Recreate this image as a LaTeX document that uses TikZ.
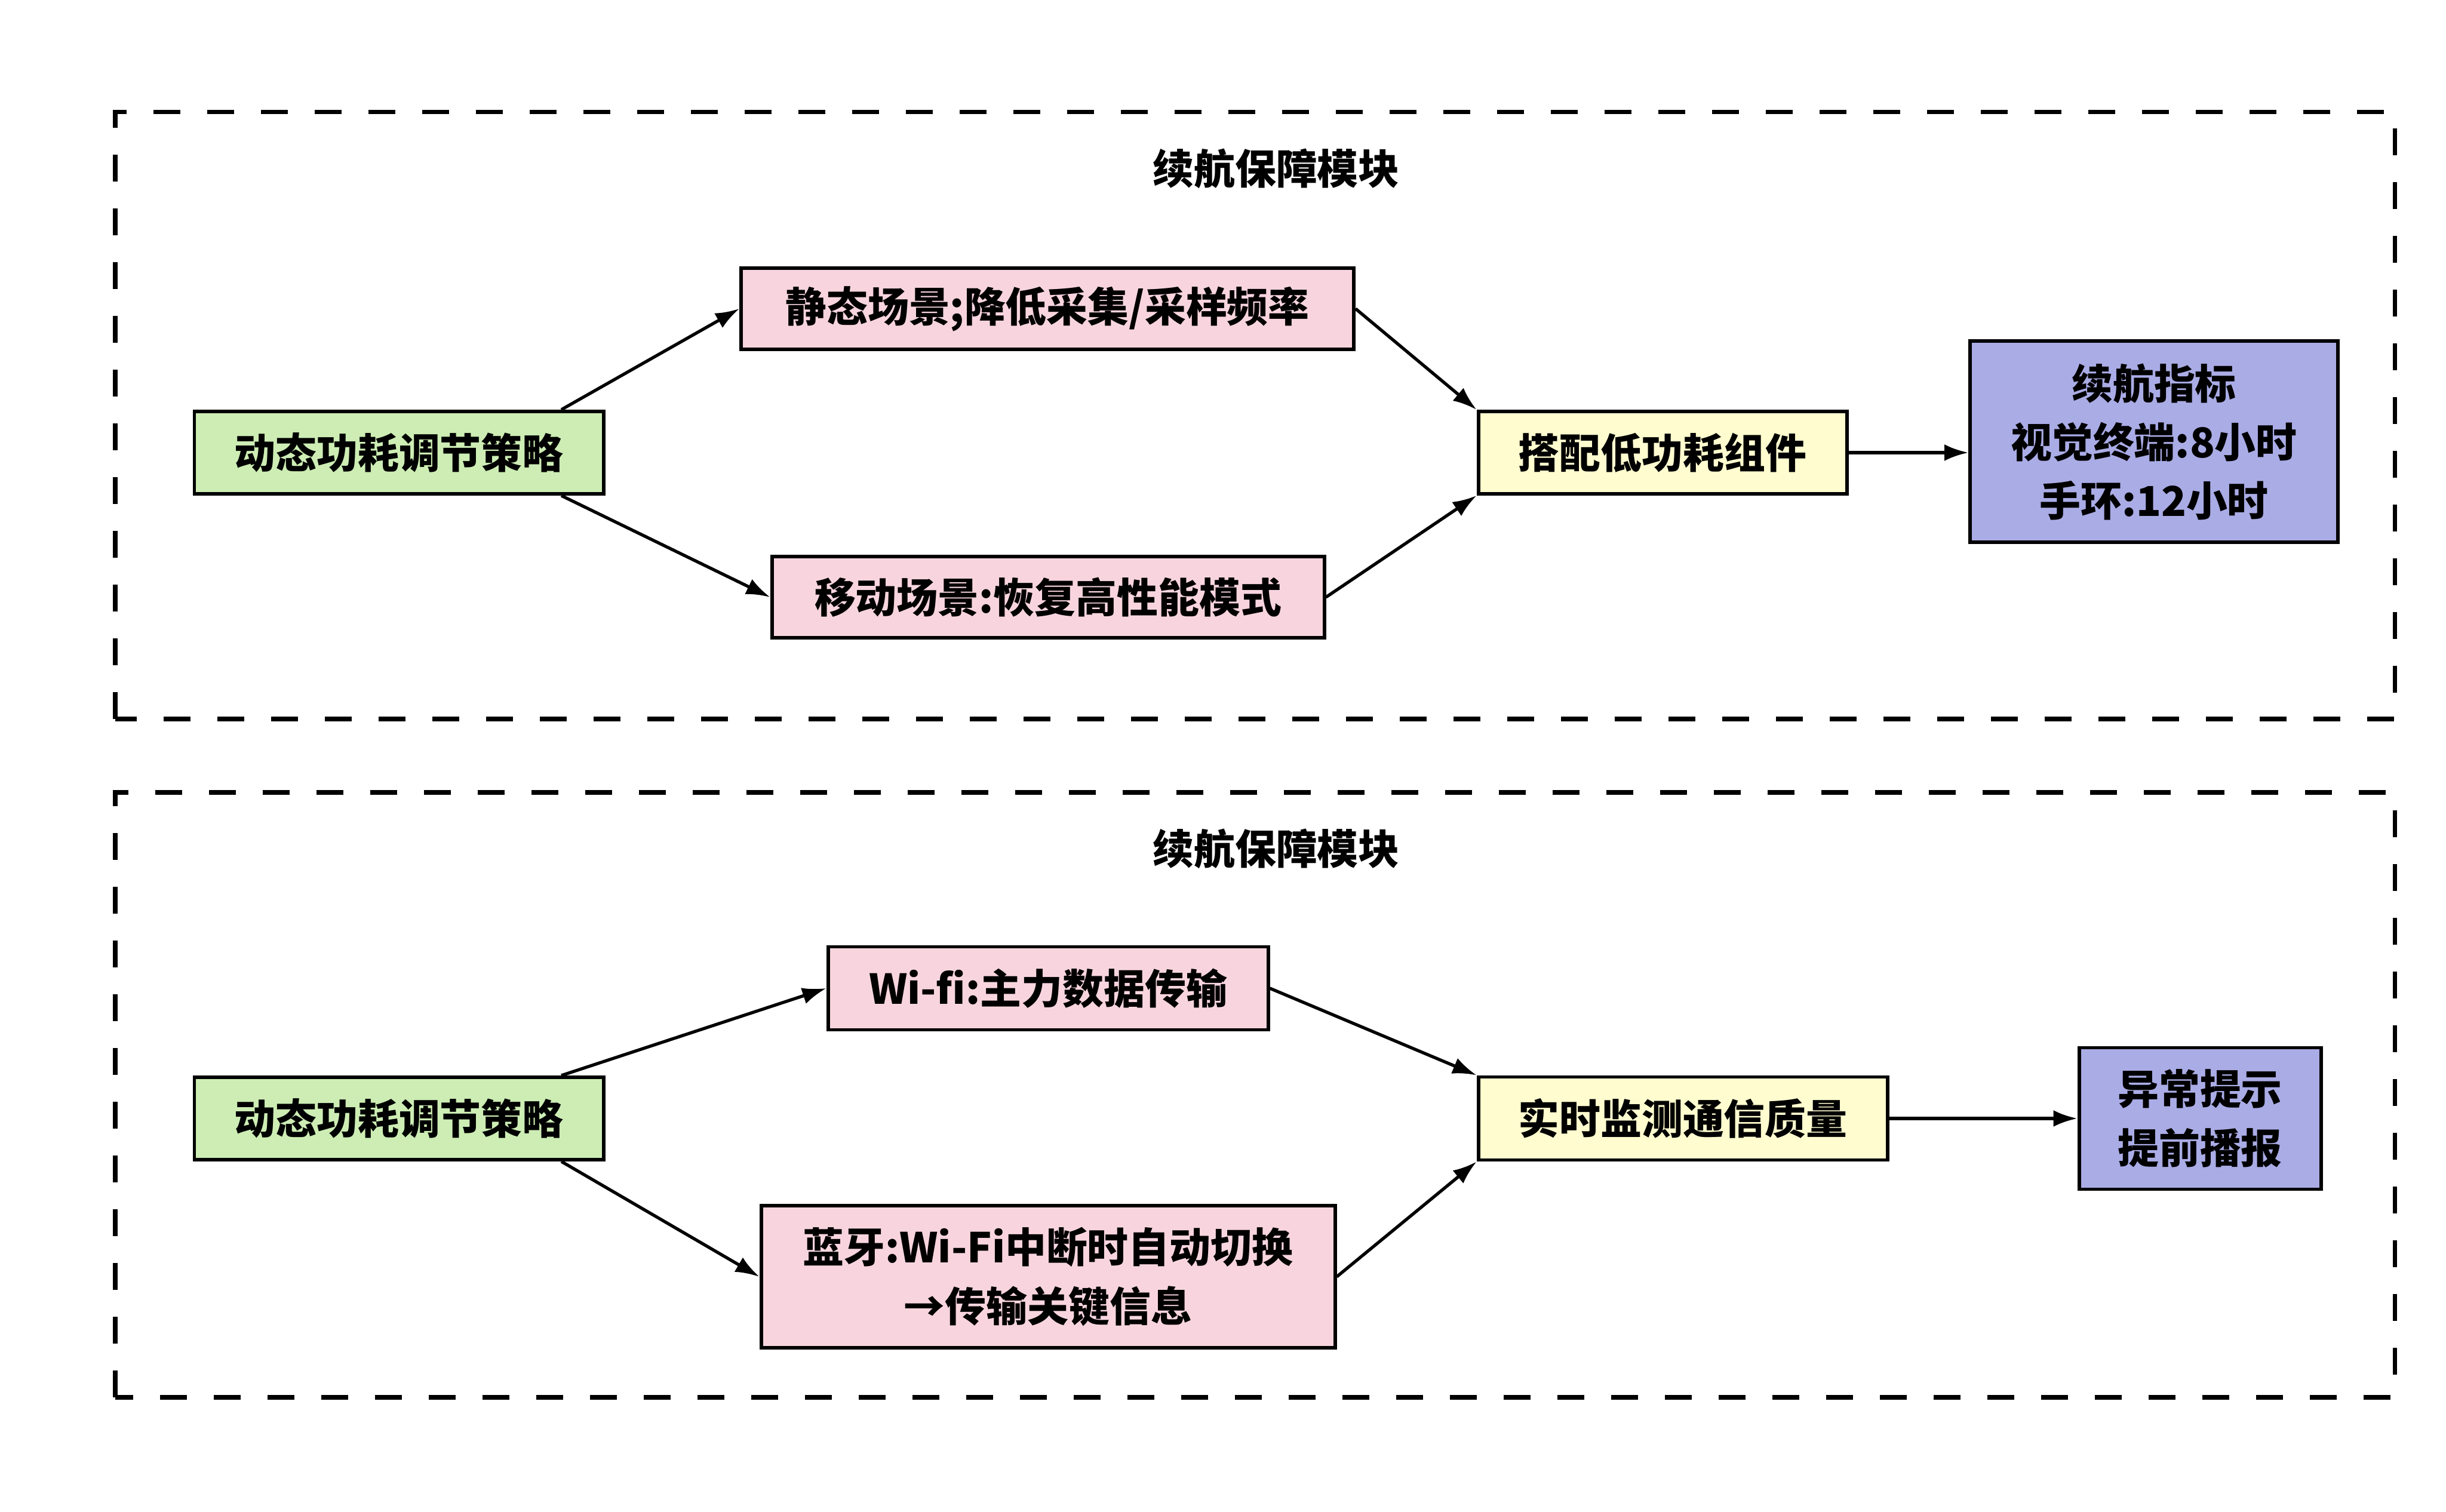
\documentclass[tikz,border=0pt]{standalone}
\usepackage{fontspec}
\newfontfamily\cjk{Noto Sans CJK SC}
\usetikzlibrary{arrows.meta}

\definecolor{stratgreen}{RGB}{205,237,180}
\definecolor{modepink}{RGB}{248,213,222}
\definecolor{partyellow}{RGB}{255,252,207}
\definecolor{goalblue}{RGB}{170,172,230}

\begin{document}
\begin{tikzpicture}[
  box/.style={draw=black, line width=1.7pt, align=center, inner sep=0pt,
    font=\cjk\bfseries\fontsize{19.6pt}{28pt}\selectfont},
  dashframe/.style={line width=2pt, dash pattern=on 0.45cm off 0.45cm},
  flow/.style={line width=1.5pt, -{Latex[length=0.4cm,width=0.28cm]}},
  heading/.style={font=\cjk\bfseries\fontsize{19.6pt}{28pt}\selectfont}]
  \useasboundingbox (0,0) rectangle (40.96,25.31);

  % upper module
  \draw[dashframe] (1.93,13.27) rectangle (40.10,23.43);
  \node[heading] (title1) at (21.37,22.49) {续航保障模块};
  \node[box, fill=stratgreen, minimum width=6.85cm, minimum height=1.38cm]
    (strat1) at (6.68,17.73) {动态功耗调节策略};
  \node[box, fill=modepink, minimum width=10.26cm, minimum height=1.36cm]
    (static) at (17.54,20.14) {静态场景;降低采集/采样频率};
  \node[box, fill=modepink, minimum width=9.25cm, minimum height=1.36cm]
    (mobile) at (17.55,15.31) {移动场景:恢复高性能模式};
  \node[box, fill=partyellow, minimum width=6.17cm, minimum height=1.38cm]
    (parts) at (27.84,17.73) {搭配低功耗组件};
  \node[box, fill=goalblue, minimum width=6.16cm, minimum height=3.37cm]
    (target) at (36.07,17.91) {续航指标\\视觉终端:8小时\\手环:12小时};

  \draw[flow] ([xshift=2.72cm]strat1.north) -- (static.west);
  \draw[flow] ([xshift=2.72cm]strat1.south) -- (mobile.west);
  \draw[flow] (static.east) -- (parts.north west);
  \draw[flow] (mobile.east) -- (parts.south west);
  \draw[flow] (parts.east) -- (parts.east -| target.west);

  % lower module
  \draw[dashframe] (1.93,1.91) rectangle (40.10,12.04);
  \node[heading] (title2) at (21.37,11.10) {续航保障模块};
  \node[box, fill=stratgreen, minimum width=6.85cm, minimum height=1.38cm]
    (strat2) at (6.68,6.58) {动态功耗调节策略};
  \node[box, fill=modepink, minimum width=7.37cm, minimum height=1.39cm]
    (wifi) at (17.55,8.76) {Wi-fi:主力数据传输};
  \node[box, fill=modepink, minimum width=9.61cm, minimum height=2.38cm]
    (bt) at (17.55,3.93) {蓝牙:Wi-Fi中断时自动切换\\→传输关键信息};
  \node[box, fill=partyellow, minimum width=6.85cm, minimum height=1.39cm]
    (monitor) at (28.18,6.58) {实时监测通信质量};
  \node[box, fill=goalblue, minimum width=4.05cm, minimum height=2.37cm]
    (alert) at (36.84,6.58) {异常提示\\提前播报};

  \draw[flow] ([xshift=2.72cm]strat2.north) -- (wifi.west);
  \draw[flow] ([xshift=2.72cm]strat2.south) -- (bt.west);
  \draw[flow] (wifi.east) -- (monitor.north west);
  \draw[flow] (bt.east) -- (monitor.south west);
  \draw[flow] (monitor.east) -- (alert.west);
\end{tikzpicture}
\end{document}
